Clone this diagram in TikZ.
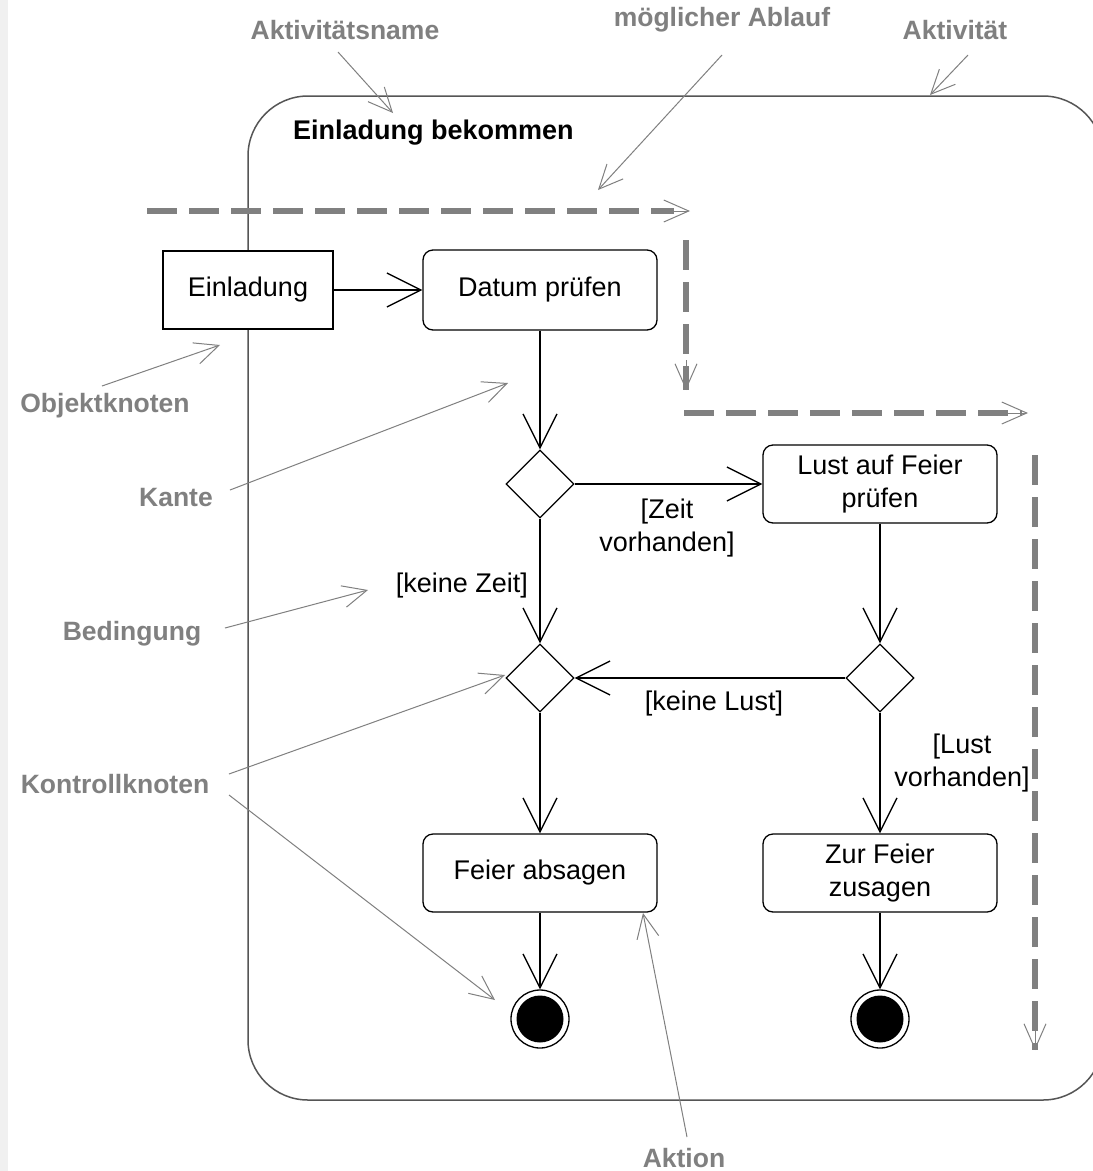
\documentclass[tikz,border=0pt]{standalone}
\usepackage{fontspec}
\setmainfont{Liberation Sans}
\usetikzlibrary{arrows.meta,shapes.geometric}
\definecolor{anngray}{HTML}{808080}
\definecolor{framegray}{HTML}{555555}
\begin{document}
\begin{tikzpicture}[x=1pt,y=-1pt,
  every node/.style={font=\fontsize{27}{33}\selectfont},
  actbox/.style={draw, rounded corners=10pt, minimum width=234pt, minimum height=80pt, align=center, fill=white, line width=1.3pt},
  objbox/.style={draw, minimum width=170pt, minimum height=78pt, fill=white, line width=1.3pt},
  decbox/.style={draw, diamond, minimum width=68pt, minimum height=68pt, inner sep=0pt, line width=1.3pt, fill=white},
  finalbox/.style={draw, circle, minimum size=58pt, inner sep=0pt, line width=1.3pt, fill=white},
  flow/.style={line width=1.3pt, -{Straight Barb[length=34pt,width=34pt,line width=1.3pt]}},
  guard/.style={align=center, inner sep=0pt},
  ann/.style={draw=anngray, line width=1pt, -{Straight Barb[length=24pt,width=22pt,line width=1pt]}},
  anntext/.style={text=anngray, inner sep=0pt, font=\fontsize{26.5}{30}\selectfont\bfseries},
  ablauf/.style={draw=anngray, line width=6pt, dash pattern=on 30pt off 12pt},
  ablauftip/.style={draw=anngray, line width=1pt, -{Straight Barb[length=25pt,width=22pt,line width=1pt]}}
]
\useasboundingbox (0,0) rectangle (1093,1171);
\fill[white] (0,0) rectangle (1093,1171);
\fill[gray!12] (0,0) rectangle (8,1171);

% activity frame
\begin{scope}
\clip (0,0) rectangle (1093,1171);
\draw[framegray, line width=1.5pt, rounded corners=60pt] (248,96) rectangle (1103,1100);
\end{scope}
\node[anchor=west, inner sep=0pt, font=\fontsize{27}{30}\selectfont\bfseries] (name) at (293,133) {Einladung bekommen};

% nodes
\node[objbox] (ein) at (248,290) {Einladung};
\node[actbox] (datum) at (540,290) {Datum prüfen};
\node[decbox] (d1) at (540,484) {};
\node[actbox, minimum height=78pt] (lust) at (880,484) {Lust auf Feier\\prüfen};
\node[decbox] (d2) at (540,678) {};
\node[decbox] (d3) at (880,678) {};
\node[actbox, minimum height=78pt] (absagen) at (540,873) {Feier absagen};
\node[actbox, minimum height=78pt] (zusagen) at (880,873) {Zur Feier\\zusagen};
\node[finalbox] (f1) at (540,1019) {};
\node[finalbox] (f2) at (880,1019) {};
\fill (f1.center) circle (23.5pt);
\fill (f2.center) circle (23.5pt);

% flows
\draw[flow] (ein) -- (datum);
\draw[flow] (datum) -- (d1);
\draw[flow] (d1) -- (lust);
\draw[flow] (d1) -- (d2);
\draw[flow] (lust) -- (d3);
\draw[flow] (d3) -- (d2);
\draw[flow] (d2) -- (absagen);
\draw[flow] (d3) -- (zusagen);
\draw[flow] (absagen) -- (f1);
\draw[flow] (zusagen) -- (f2);

% guards
\node[guard] (g1) at (667,528) {[Zeit\\vorhanden]};
\node[guard] (g2) at (462,586) {[keine Zeit]};
\node[guard] (g3) at (714,704) {[keine Lust]};
\node[guard] (g4) at (962,763) {[Lust\\vorhanden]};

% possible flow (dashed)
\coordinate (a1s) at (147,211); \coordinate (a1e) at (690,211);
\coordinate (a2s) at (686,240); \coordinate (a2e) at (686,390);
\coordinate (a3s) at (684,413); \coordinate (a3e) at (1028,413);
\coordinate (a4s) at (1035,455); \coordinate (a4e) at (1035,1050);
\draw[ablauf] (a1s) -- ([xshift=-16pt]a1e);
\draw[ablauf] (a2s) -- (a2e);
\draw[ablauf] (a3s) -- ([xshift=-6pt]a3e);
\draw[ablauf] (a4s) -- (a4e);
\draw[ablauftip] ([xshift=-30pt]a1e) -- (a1e);
\draw[ablauftip] ([yshift=30pt]a2e) -- (a2e);
\draw[ablauftip] ([xshift=-30pt]a3e) -- (a3e);
\draw[ablauftip] ([yshift=30pt]a4e) -- (a4e);

% annotations
\node[anntext] (t1) at (345,30) {Aktivitätsname};
\node[anntext] (t2) at (722,20) {möglicher Ablauf};
\node[anntext] (t3) at (955,30) {Aktivität};
\node[anntext] (t4) at (105,406) {Objektknoten};
\node[anntext] (t5) at (176,498) {Kante};
\node[anntext] (t6) at (132,634) {Bedingung};
\node[anntext] (t7) at (115,784) {Kontrollknoten};
\node[anntext] (t8) at (684,1158) {Aktion};

\coordinate (s1) at (338,52);  \coordinate (e1) at (393,113);
\coordinate (s2) at (722,55);  \coordinate (e2) at (598,190);
\coordinate (s3) at (968,55);  \coordinate (e3) at (930,95);
\coordinate (s4) at (102,386); \coordinate (e4) at (220,345);
\coordinate (s5) at (230,490); \coordinate (e5) at (508,383);
\coordinate (s6) at (225,628); \coordinate (e6) at (368,590);
\coordinate (s7) at (229,774); \coordinate (e7) at (505,675);
\coordinate (s7b) at (229,795); \coordinate (e7b) at (495,1000);
\coordinate (s8) at (687,1137); \coordinate (e8) at (643,913);
\draw[ann] (s1) -- (e1);
\draw[ann] (s2) -- (e2);
\draw[ann] (s3) -- (e3);
\draw[ann] (s4) -- (e4);
\draw[ann] (s5) -- (e5);
\draw[ann] (s6) -- (e6);
\draw[ann] (s7) -- (e7);
\draw[ann] (s7b) -- (e7b);
\draw[ann] (s8) -- (e8);
\end{tikzpicture}
\end{document}
